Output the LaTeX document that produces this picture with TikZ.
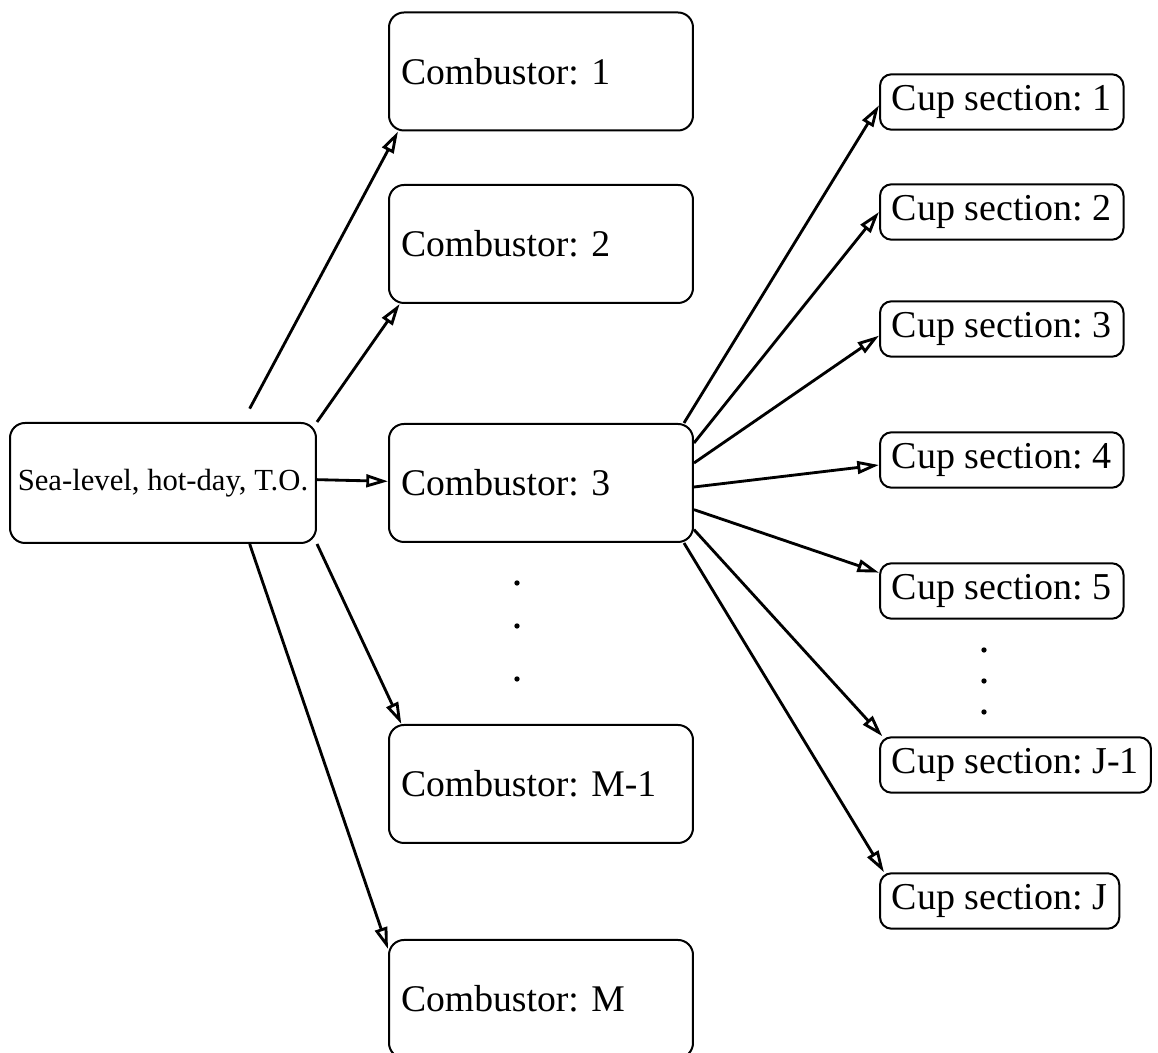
\documentclass[tikz,border=0pt]{standalone}
\usepackage{fontspec}
\setmainfont{Liberation Serif}
\usepackage{tikz}
\usetikzlibrary{arrows.meta}
\frenchspacing

\tikzset{
  combbox/.style={draw, line width=0.6pt, rounded corners=4.5pt, text width=84pt, align=left,
    inner xsep=3.6pt, minimum height=35.4pt, font=\fontsize{11.3}{13}\selectfont},
  cupbox/.style={draw, line width=0.6pt, rounded corners=3.5pt, anchor=west, inner xsep=3.6pt,
    minimum height=16.5pt, font=\fontsize{11.4}{13}\selectfont},
  srcbox/.style={draw, line width=0.6pt, rounded corners=4.5pt, inner xsep=0.8pt, minimum width=91.8pt,
    minimum height=36pt, font=\fontsize{9.2}{11}\selectfont},
  link/.style={line width=0.85pt, -{Triangle[open, length=6.5pt, width=3.8pt]}}
}

\begin{document}
\begin{tikzpicture}[x=0.3pt, y=-0.3pt]
  \useasboundingbox (0,0) rectangle (1158,1053);

  % Source case
  \node[srcbox] (src) at (163,483) {Sea-level, hot-day, T.O.};

  % Combustors
  \foreach \n/\lab/\y in {1/1/71.5, 2/2/244, 3/3/483, 4/M-1/784, 5/M/999} {
    \node[combbox] (c\n) at (541,\y) {Combustor: \lab};
  }
  \foreach \y in {583,626,679} {
    \fill (517,\y) circle (0.8pt);
  }

  % Cup sections
  \foreach \n/\lab/\y in {1/1/102, 2/2/212, 3/3/329, 4/4/460, 5/5/591, 6/J-1/765, 7/J/901} {
    \node[cupbox] (cup\n) at (879,\y) {Cup section: \lab};
  }
  \foreach \y in {650,681,712} {
    \fill (984,\y) circle (0.8pt);
  }

  % Case to combustors
  \draw[link] ([xshift=26pt,yshift=4pt]src.north) -- ([xshift=3pt]c1.south west);
  \draw[link] (src.north east) -- ([xshift=3.5pt]c2.south west);
  \draw[link] ([yshift=1pt]src.east) -- ([yshift=0.5pt]c3.west);
  \draw[link] (src.south east) -- ([xshift=4pt]c4.north west);
  \draw[link] ([xshift=26pt]src.south) -- ([yshift=-3pt]c5.north west);

  % Combustor 3 to cup sections
  \draw[link] ([xshift=-3pt]c3.north east) -- ([yshift=-1pt]cup1.west);
  \draw[link] ([yshift=12pt]c3.east) -- (cup2.west);
  \draw[link] ([yshift=6pt]c3.east) -- ([yshift=-2pt]cup3.west);
  \draw[link] ([yshift=-1.2pt]c3.east) -- ([yshift=-1.5pt]cup4.west);
  \draw[link] ([yshift=-8pt]c3.east) -- ([yshift=5.5pt]cup5.west);
  \draw[link] ([yshift=-14pt]c3.east) -- ([xshift=1pt]cup6.north west);
  \draw[link] ([xshift=-3pt]c3.south east) -- ([xshift=1.5pt]cup7.north west);
\end{tikzpicture}
\end{document}
